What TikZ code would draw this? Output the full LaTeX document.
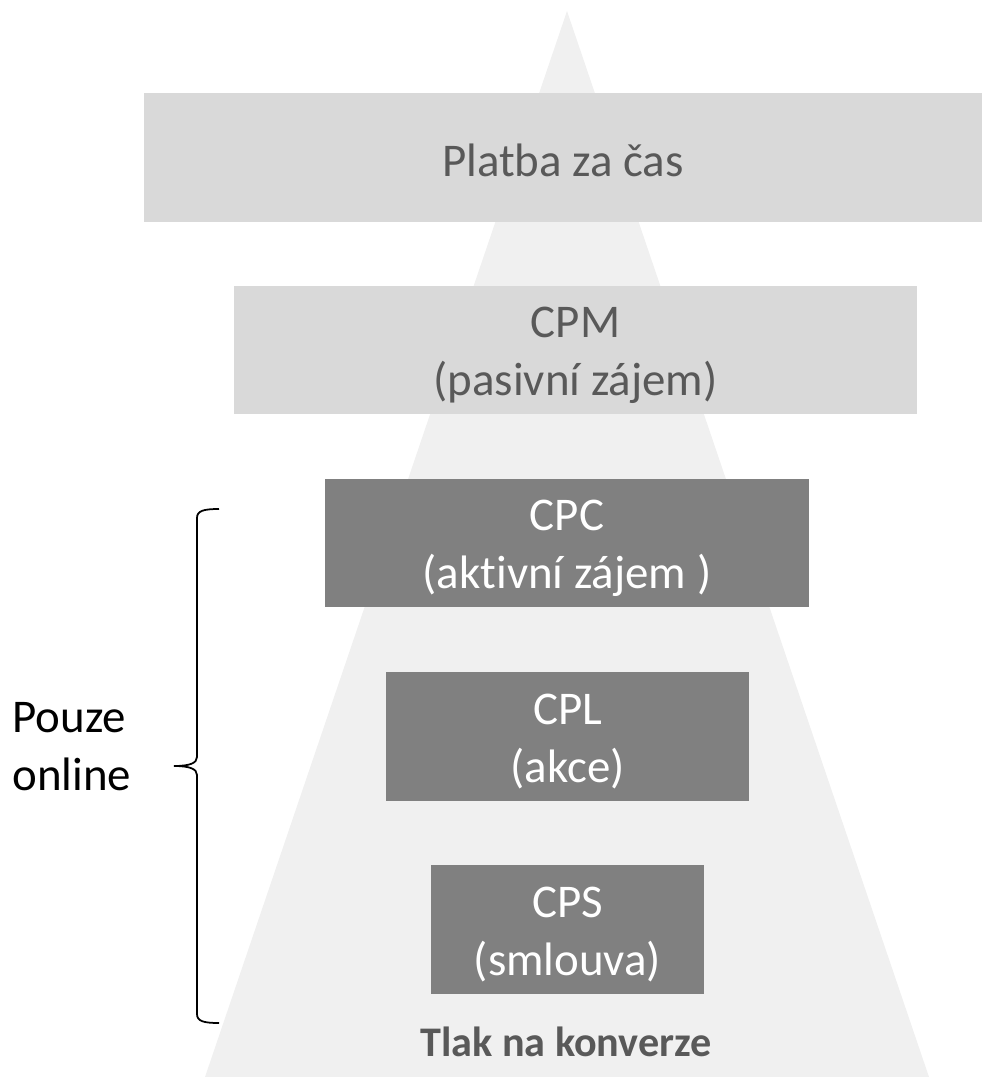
\documentclass[tikz,border=0pt]{standalone}
\usepackage{fontspec}
\setmainfont{Carlito}[Ligatures=NoCommon]
\usepackage{tikz}

\definecolor{pyramidfill}{HTML}{F0F0F0}
\definecolor{lightfill}{HTML}{D9D9D9}
\definecolor{darkfill}{HTML}{808080}
\definecolor{labelgray}{HTML}{595959}
\newcommand\tierfont{\fontsize{26.7pt}{33pt}\selectfont}

\begin{document}
\begin{tikzpicture}[x=0.02cm,y=-0.02cm,
  tierbox/.style={inner sep=0pt, minimum height=2.57cm},
  tiertext/.style={inner sep=0pt, align=center, font=\tierfont, yshift=-0.1cm}]

\useasboundingbox (0,0) rectangle (982,1077);

\coordinate (apex) at (567,11);
\coordinate (baseleft) at (205,1077);
\coordinate (baseright) at (929,1077);
\fill[pyramidfill] (apex) -- (baseleft) -- (baseright) -- cycle;

% tiers of the pyramid
\node[tierbox, fill=lightfill, minimum width=16.76cm] (casbox) at (563,157.5) {};
\node[tierbox, fill=lightfill, minimum width=13.66cm] (cpmbox) at (575.5,350) {};
\node[tierbox, fill=darkfill, minimum width=9.68cm] (cpcbox) at (567,543) {};
\node[tierbox, fill=darkfill, minimum width=7.26cm] (cplbox) at (567.5,736.5) {};
\node[tierbox, fill=darkfill, minimum width=5.46cm] (cpsbox) at (567.5,929.5) {};

\node[tiertext, text=labelgray, yshift=0.05cm] (cas) at (casbox) {Platba za čas};
\node[tiertext, text=labelgray] (cpm) at (cpmbox) {CPM\\(pasivní zájem)};
\node[tiertext, text=white] (cpc) at (cpcbox) {CPC\\(aktivní zájem )};
\node[tiertext, text=white] (cpl) at (cplbox) {CPL\\(akce)};
\node[tiertext, text=white] (cps) at (cpsbox) {CPS\\(smlouva)};

\node[text=labelgray, font=\fontsize{24pt}{29pt}\selectfont\bfseries, anchor=base] (tlak) at (566,1056) {Tlak na konverze};

\node[font=\tierfont, align=left, anchor=west, inner sep=0pt] (online) at (12,747) {Pouze\\online};

\coordinate (bracetop) at (219,509);
\coordinate (bracetip) at (174,766);
\coordinate (bracebot) at (219,1023);
\draw[line width=1pt] (bracetop) .. controls (203,509) and (197,511) .. (197,518)
  -- (197,757) .. controls (197,763) and (190,766) .. (bracetip)
  .. controls (190,766) and (197,769) .. (197,775)
  -- (197,1014) .. controls (197,1021) and (203,1023) .. (bracebot);

\end{tikzpicture}
\end{document}
